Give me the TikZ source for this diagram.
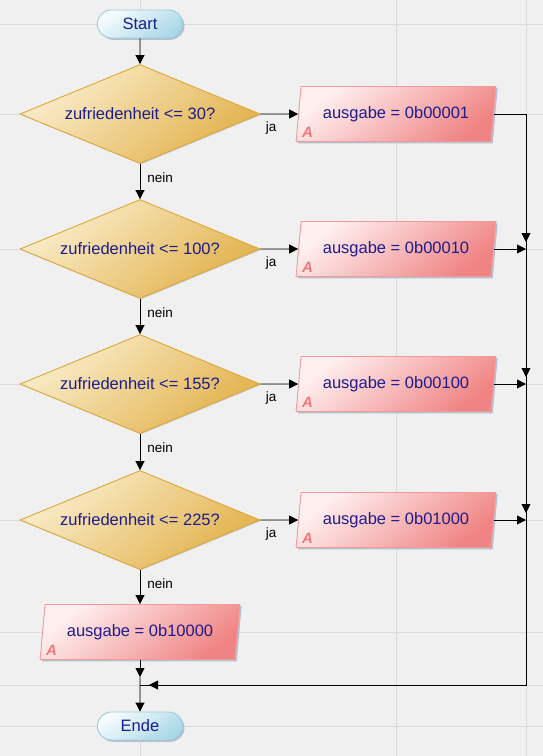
\documentclass[tikz,border=0pt]{standalone}
\usepackage{fontspec}
\setmainfont{Liberation Sans}
\usetikzlibrary{arrows.meta,positioning,shapes.geometric,shapes.misc,shadows}
\definecolor{bgcol}{HTML}{F0F0F0}
\definecolor{guidecol}{HTML}{DADADA}
\definecolor{txtcol}{HTML}{1C1C8C}
\definecolor{decA}{HTML}{FAEDCB}
\definecolor{decB}{HTML}{E2B24C}
\definecolor{decL}{HTML}{DFA838}
\definecolor{outA}{HTML}{FFF0F0}
\definecolor{outM}{HTML}{F7BCBC}
\definecolor{outB}{HTML}{F08484}
\definecolor{outL}{HTML}{F29A9A}
\definecolor{endA}{HTML}{F6FCFE}
\definecolor{endB}{HTML}{A9D8E6}
\definecolor{endL}{HTML}{9ECBDB}
\definecolor{shadecol}{HTML}{A8B4C8}
\definecolor{markcol}{HTML}{F07878}

\begin{document}
\begin{tikzpicture}[x=1pt,y=-1pt,node distance=135pt,on grid,
   font=\fontsize{16.5}{19}\selectfont,
   >={Triangle[length=9pt,width=9pt]},line width=0.9pt,
   myshadow/.style={drop shadow={shadow xshift=1.8pt,shadow yshift=-1.8pt,fill=shadecol,opacity=0.8}},
   term/.style={rounded rectangle,minimum width=92pt,minimum height=28pt,draw=endL,
      top color=endA,bottom color=endB,shading angle=35,text=txtcol,myshadow},
   decision/.style={diamond,aspect=2.42,minimum width=240pt,minimum height=99pt,inner sep=0pt,
      draw=decL,top color=decA,bottom color=decB,shading angle=40,text=txtcol,
      drop shadow={shadow xshift=1pt,shadow yshift=-1pt,fill=shadecol,opacity=0.6}},
   output/.style={trapezium,trapezium left angle=76,trapezium right angle=104,trapezium stretches=true,
      minimum width=200pt,minimum height=55pt,inner sep=0pt,draw=outL,
      top color=outA,middle color=outM,bottom color=outB,shading angle=40,text=txtcol,myshadow},
   amark/.style={font=\fontsize{15}{15}\selectfont\bfseries\itshape,text=markcol,inner sep=0pt},
   lab/.style={font=\fontsize{13.5}{15}\selectfont,text=black,inner sep=0pt}]
   % background and guide lines
   \fill[bgcol] (0,0) rectangle (543,756);
   \useasboundingbox (0,0) rectangle (543,756);
   \foreach \gy in {24,114,249,384,520,632,685,726}
      \draw[guidecol,line width=0.8pt] (0,\gy) -- (543,\gy);
   \foreach \gx in {140,396,526}
      \draw[guidecol,line width=0.8pt] (\gx,0) -- (\gx,756);

   \node[decision] (d1) at (140,114) {zufriedenheit <= 30?};
   \node[term] (start) [above=90pt of d1] {Start};
   \node[decision] (d2) [below=of d1] {zufriedenheit <= 100?};
   \node[decision] (d3) [below=of d2] {zufriedenheit <= 155?};
   \node[decision] (d4) [below=136pt of d3] {zufriedenheit <= 225?};
   \node[output] (b1) [right=256pt of d1] {ausgabe = 0b00001};
   \node[output] (b2) [right=256pt of d2] {ausgabe = 0b00010};
   \node[output] (b3) [right=256pt of d3] {ausgabe = 0b00100};
   \node[output] (b4) [right=256pt of d4] {ausgabe = 0b01000};
   \node[output] (b5) [below=112pt of d4] {ausgabe = 0b10000};
   \node[term] (ende) [below=94pt of b5] {Ende};

   \node[amark] (a1) at ([shift={(12pt,10pt)}]b1.bottom left corner) {A};
   \node[amark] (a2) at ([shift={(12pt,10pt)}]b2.bottom left corner) {A};
   \node[amark] (a3) at ([shift={(12pt,10pt)}]b3.bottom left corner) {A};
   \node[amark] (a4) at ([shift={(12pt,10pt)}]b4.bottom left corner) {A};
   \node[amark] (a5) at ([shift={(12pt,10pt)}]b5.bottom left corner) {A};

   \node[lab,anchor=north west] (ja1) at ([shift={(5pt,-7pt)}]d1.east) {ja};
   \node[lab,anchor=north west] (ja2) at ([shift={(5pt,-7pt)}]d2.east) {ja};
   \node[lab,anchor=north west] (ja3) at ([shift={(5pt,-7pt)}]d3.east) {ja};
   \node[lab,anchor=north west] (ja4) at ([shift={(5pt,-7pt)}]d4.east) {ja};
   \node[lab,anchor=west] (nein1) at ([shift={(7pt,-14pt)}]d1.south) {nein};
   \node[lab,anchor=west] (nein2) at ([shift={(7pt,-14pt)}]d2.south) {nein};
   \node[lab,anchor=west] (nein3) at ([shift={(7pt,-14pt)}]d3.south) {nein};
   \node[lab,anchor=west] (nein4) at ([shift={(7pt,-14pt)}]d4.south) {nein};

   \coordinate (m) at (140,685);
   \coordinate (r5) at (526,685);
   \coordinate (r1) at (b1.east -| r5);
   \coordinate (r2) at (b2.east -| r5);
   \coordinate (r3) at (b3.east -| r5);
   \coordinate (r4) at (b4.east -| r5);

    \path[->]
    (start) edge (d1)
    (d1) edge (d2)
         edge (b1.west)
    (d2) edge (d3)
         edge (b2.west)
    (d3) edge (d4)
         edge (b3.west)
    (d4) edge (b5)
         edge (b4.west)
    (b2.east) edge (r2)
    (b3.east) edge (r3)
    (b4.east) edge (r4)
    (r1) edge ([yshift=7pt]r2)
    (r2) edge ([yshift=7pt]r3)
    (r3) edge ([yshift=7pt]r4)
    (b5) edge ([yshift=8pt]m)
    ([yshift=8pt]m) edge (ende)
    (r5) edge ([xshift=9pt]m);
    \draw (b1.east) -- (r1) -- (r5) -- (m);
\end{tikzpicture}
\end{document}
